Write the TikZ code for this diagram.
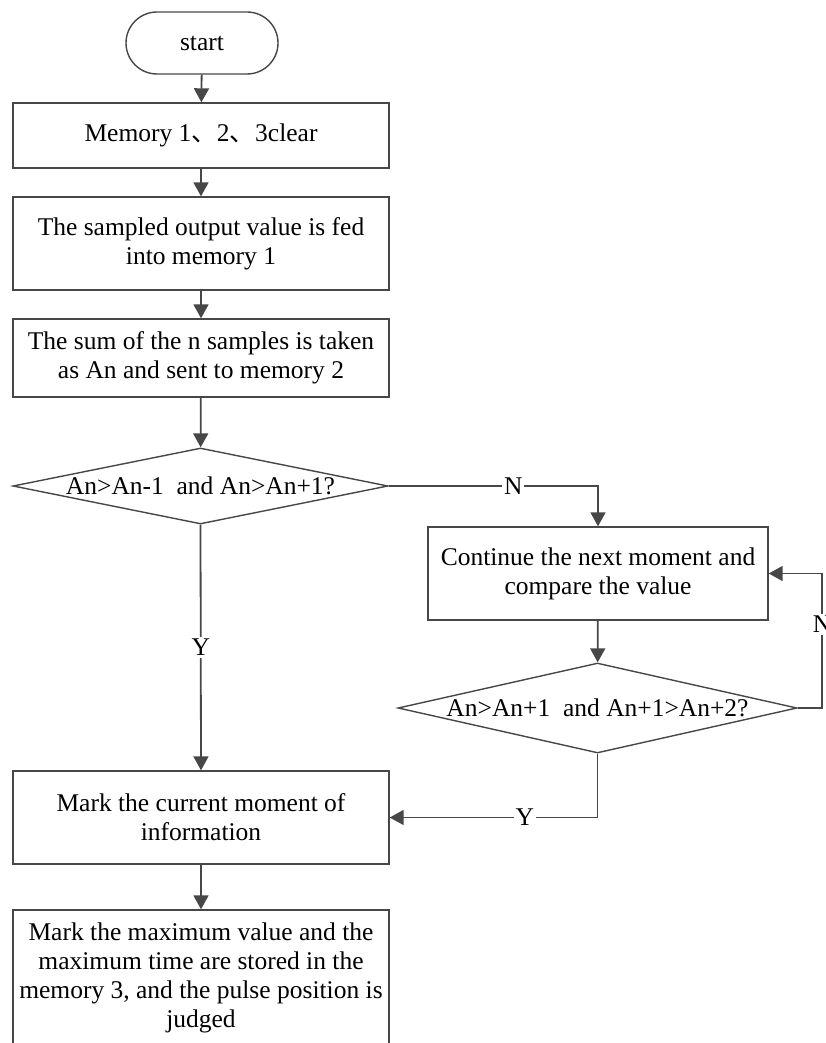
\documentclass[tikz,border=0pt]{standalone}
\usepackage{fontspec}
\setmainfont{Liberation Serif}
\newfontfamily\cjk{Noto Sans CJK SC}
\usetikzlibrary{shapes.geometric,shapes.misc,arrows.meta}
\definecolor{ln}{HTML}{474747}
\begin{document}
\begin{tikzpicture}[x=1pt,y=-1pt,
  font=\fontsize{25.5}{29}\selectfont,
  every node/.style={text=black},
  proc/.style={draw=ln,line width=1.4pt,rectangle,minimum width=376pt,align=center,inner sep=0pt},
  term/.style={draw=ln,line width=1.4pt,rounded rectangle,minimum width=152pt,minimum height=62pt,inner sep=0pt},
  dec/.style={draw=ln,line width=1.4pt,diamond,inner sep=0pt},
  flow/.style={draw=ln,line width=1.8pt,-{Triangle[length=14pt,width=15pt]}},
  lbl/.style={fill=white,inner sep=2pt}]
\useasboundingbox (0,0) rectangle (825,1043);
\clip (0,0) rectangle (825,1043);
\node[term] (st) at (202,43) {start};
\node[proc,minimum height=65pt] (b1) at (201,135.5) {Memory 1{\cjk 、}2{\cjk 、}3clear};
\node[proc,minimum height=93pt] (b2) at (201,243.5) {The sampled output value is fed\\into memory 1};
\node[proc,minimum height=78pt] (b3) at (201,358) {The sum of the n samples is taken\\as An and sent to memory 2};
\node[dec,minimum width=375pt,minimum height=76pt] (d1) at (200.5,486) {};
\node (d1t) at (d1.center) {An>An-1\ \ and An>An+1?};
\node[proc,minimum width=340pt,minimum height=93pt] (b4) at (598,573.5) {Continue the next moment and\\compare the value};
\node[dec,minimum width=399pt,minimum height=90pt] (d2) at (597.5,708) {};
\node (d2t) at (d2.center) {An>An+1\ \ and An+1>An+2?};
\node[proc,minimum height=93pt] (b5) at (201,817.5) {Mark the current moment of\\information};
\node[proc,minimum height=136pt] (b6) at (201,978) {Mark the maximum value and the\\maximum time are stored in the\\memory 3, and the pulse position is\\judged};
\coordinate (r1) at (822,708);
\draw[flow] (st) -- (b1);
\draw[flow] (b1) -- (b2);
\draw[flow] (b2) -- (b3);
\draw[flow] (b3) -- (d1);
\draw[flow] (d1.east) -- node[lbl,pos=0.595]{N} (d1.east -| b4) -- (b4.north);
\draw[flow] (d1.south) -- node[lbl]{Y} (b5.north);
\draw[flow] (b4) -- (d2);
\draw[flow] (d2.east) -- (r1) -- node[lbl,pos=0.62]{N} (r1 |- b4.east) -- (b4.east);
\draw[flow] (d2.south) -- (d2.south |- b5.east) -- node[lbl,pos=0.35]{Y} (b5.east);
\draw[flow] (b5) -- (b6);
\end{tikzpicture}
\end{document}
